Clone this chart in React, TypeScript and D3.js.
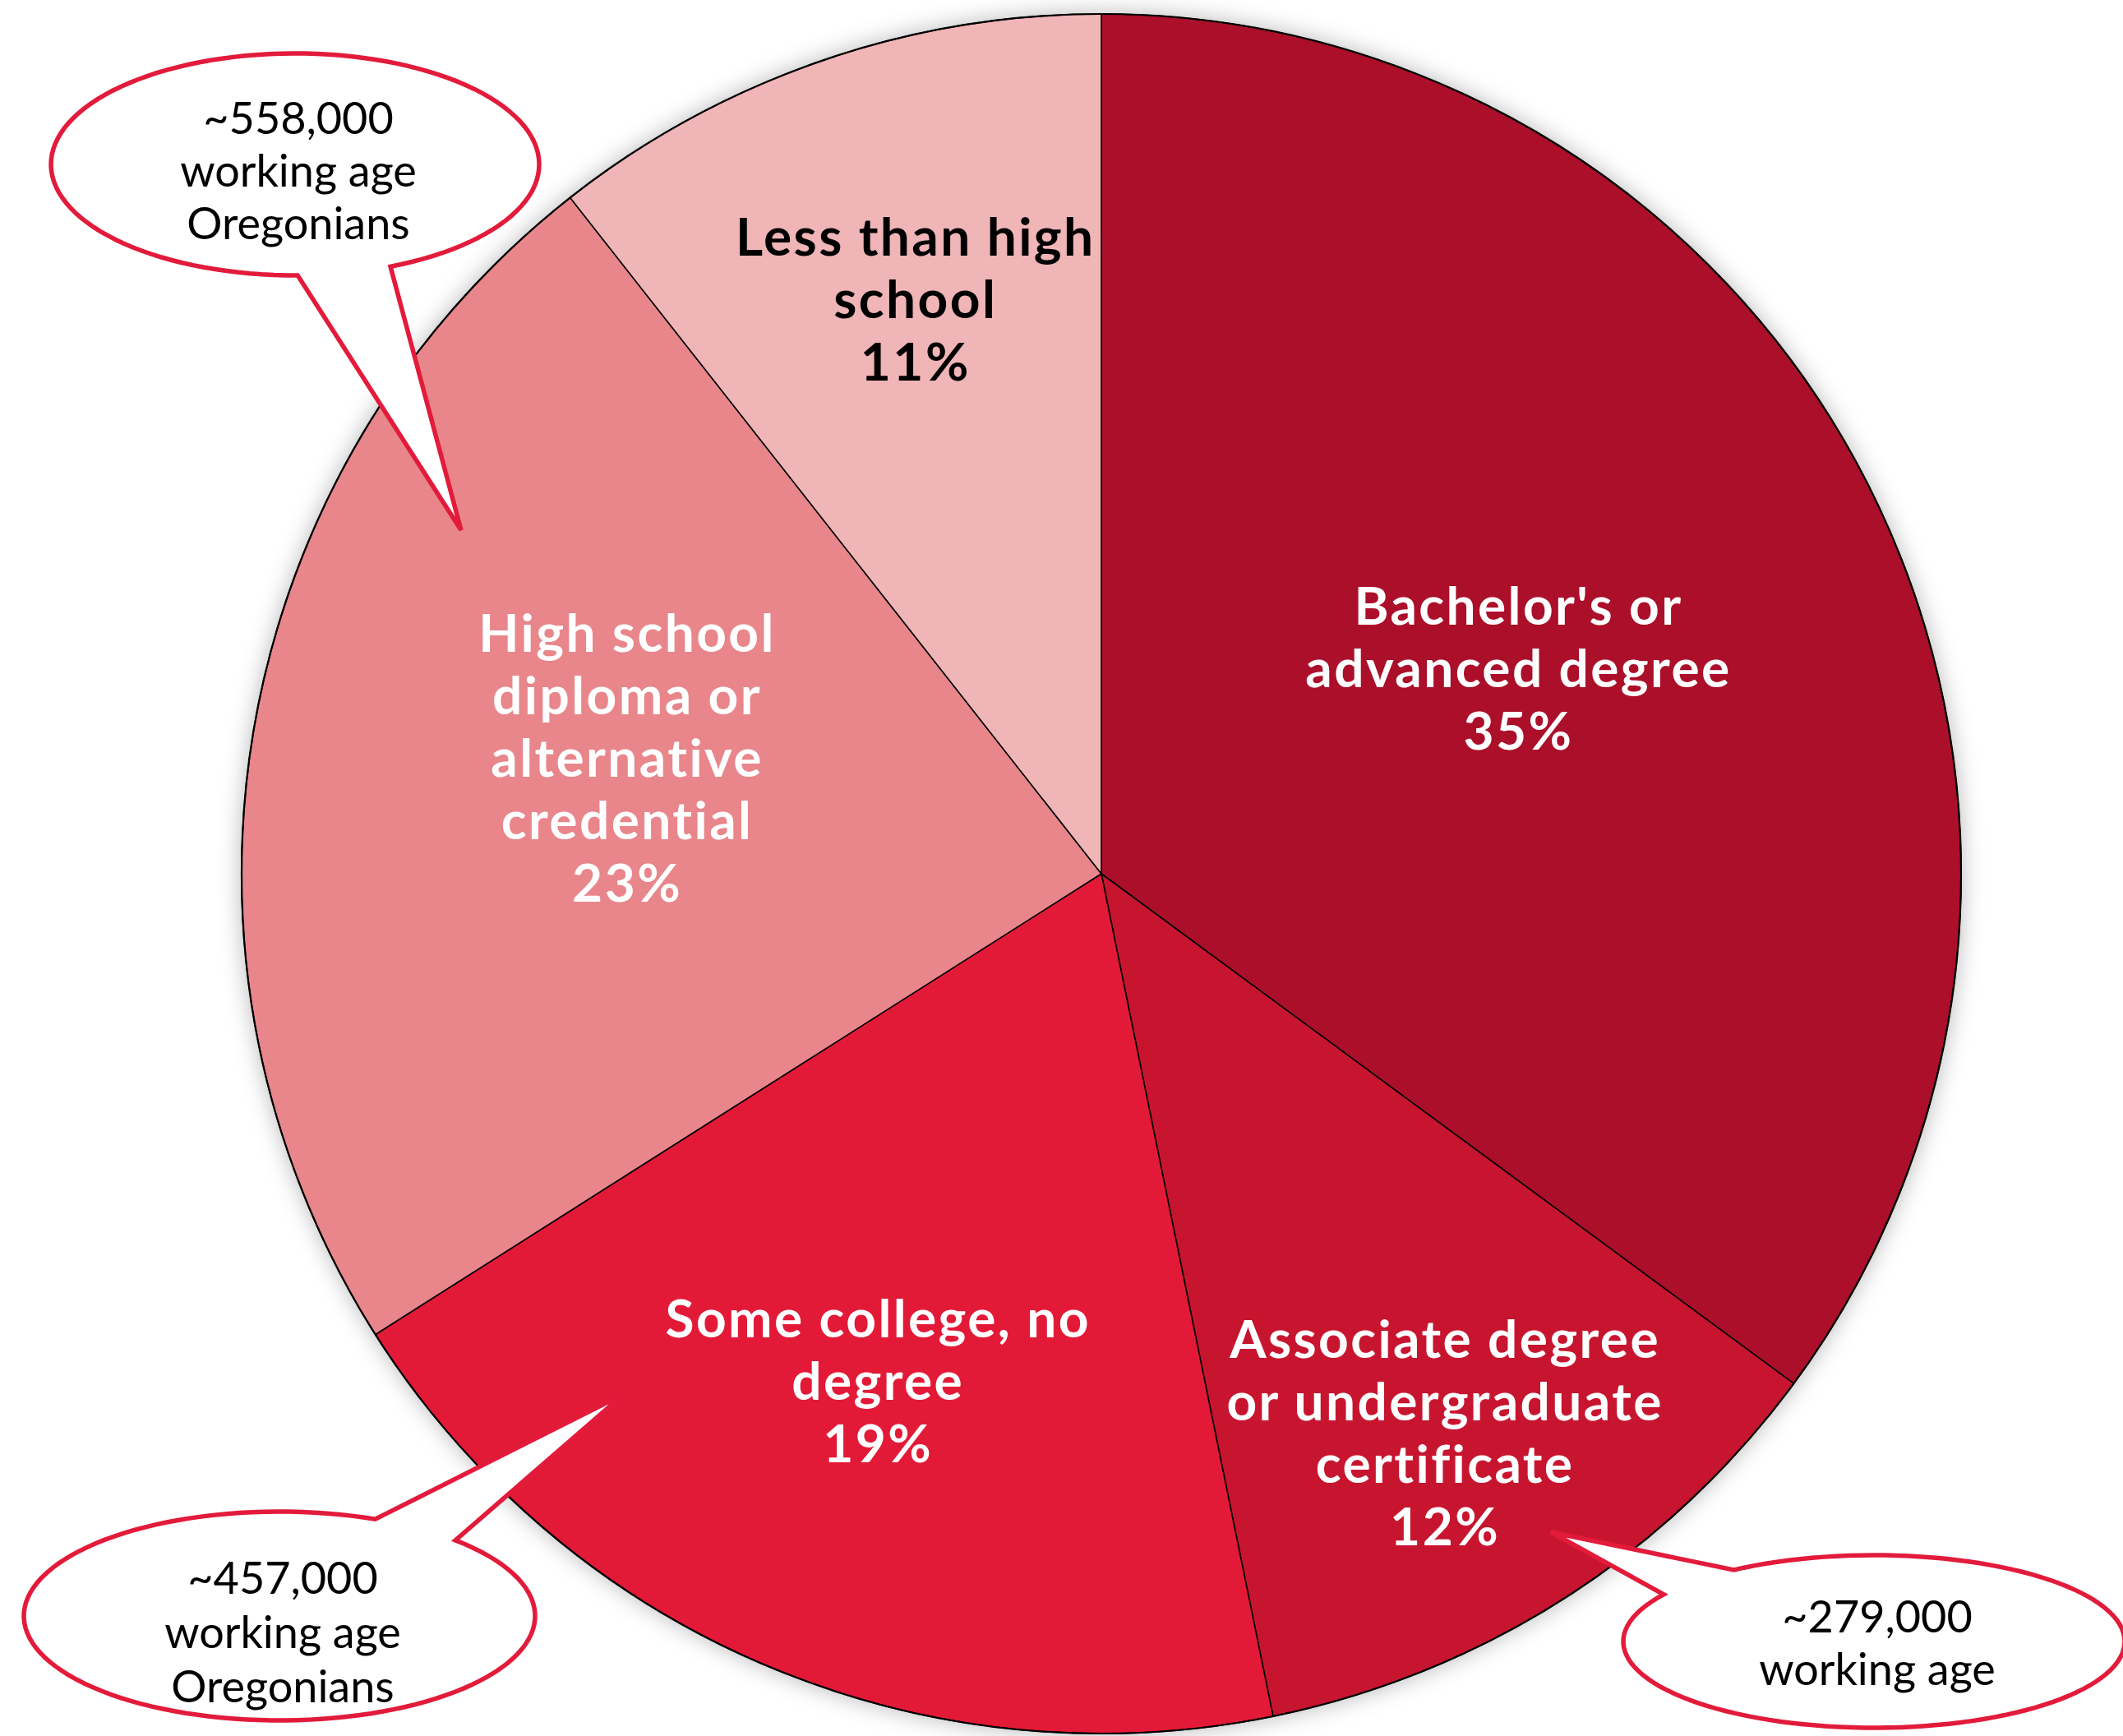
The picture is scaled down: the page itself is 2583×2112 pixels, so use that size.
import React, { useEffect, useRef } from 'react';
import * as d3 from 'd3';

// educational attainment of working age Oregonians, clockwise from 12 o'clock
const categories = [
  'Bachelor\'s or advanced degree',
  'Associate degree or undergraduate certificate',
  'Some college, no degree',
  'High school diploma or alternative credential',
  'Less than high school',
];
// unrounded shares (slice sizes) and the rounded percentages printed on the chart
const shares = [35.1, 11.7, 19.2, 23.4, 10.6];
const shownPct = [35, 12, 19, 23, 11];
const labelLines = [
  ['Bachelor\'s or', 'advanced degree'],
  ['Associate degree', 'or undergraduate', 'certificate'],
  ['Some college, no', 'degree'],
  ['High school', 'diploma or', 'alternative', 'credential'],
  ['Less than high', 'school'],
];
const sliceColors = ['#AB0F2A', '#C8152F', '#E31A37', '#E8868B', '#F0B5B7'];
const labelColors = ['#ffffff', '#ffffff', '#ffffff', '#ffffff', '#000000'];

const calloutLines = [
  ['~558,000', 'working age', 'Oregonians'],
  ['~457,000', 'working age', 'Oregonians'],
  ['~279,000', 'working age'],
];

const W = 2583;
const H = 2112;
const cx = 1340;
const cy = 1063;
const R = 1046;

// label placement: radius from centre and angle tweak (deg) from slice middle
const labelLayout = [
  { r: 555, da: 2.62 },
  { r: 817, da: 1.9 },
  { r: 696, da: 0.06 },
  { r: 590, da: 1.78 },
  { r: 713, da: 0.48 },
];

// callout bubbles: ellipse, tail base angles (deg, parametric), tip and text start
const calloutLayout = [
  { ex: 359, ey: 200, rx: 297, ry: 135, t1: 67, t2: 89.4, tip: [561, 645], ty: -37, lh: 64 },
  { ex: 340, ey: 1966, rx: 311, ry: 127, t1: -68, t2: -46.5, tip: [759, 1696], ty: -27, lh: 66 },
  { ex: 2280, ey: 1997, rx: 305, ry: 105, t1: -147, t2: -124, tip: [1887, 1864], ty: -11, lh: 64 },
];

const App: React.FC = () => {
  const svgRef = useRef<SVGSVGElement>(null);

  useEffect(() => {
    if (!svgRef.current) return;
    const svg = d3.select(svgRef.current);
    svg.selectAll('*').remove();

    const defs = svg.append('defs');
    const f = defs
      .append('filter')
      .attr('id', 'pieShadow')
      .attr('x', '-10%')
      .attr('y', '-10%')
      .attr('width', '120%')
      .attr('height', '120%');
    f.append('feDropShadow')
      .attr('dx', 0)
      .attr('dy', 0)
      .attr('stdDeviation', 14)
      .attr('flood-color', '#000')
      .attr('flood-opacity', 0.3);

    svg.append('rect').attr('width', W).attr('height', H).attr('fill', '#ffffff');

    const pie = d3
      .pie<number>()
      .sort(null)
      .value((d) => d);
    const arcs = pie(shares);
    const arc = d3.arc<d3.PieArcDatum<number>>().innerRadius(0).outerRadius(R);

    const g = svg.append('g').attr('transform', `translate(${cx},${cy})`);

    g.append('circle').attr('r', R).attr('fill', '#fff').attr('filter', 'url(#pieShadow)');

    g.selectAll('path.slice')
      .data(arcs)
      .enter()
      .append('path')
      .attr('class', 'slice')
      .attr('d', arc)
      .attr('fill', (_, i) => sliceColors[i])
      .attr('stroke', '#000')
      .attr('stroke-width', 1.6)
      .attr('stroke-linejoin', 'round');

    g.append('circle')
      .attr('r', R)
      .attr('fill', 'none')
      .attr('stroke', '#000')
      .attr('stroke-width', 2.2);

    const lineH = 76;
    const ls = 2.4;
    arcs.forEach((a, i) => {
      const mid = (a.startAngle + a.endAngle) / 2 + (labelLayout[i].da * Math.PI) / 180;
      const lx = labelLayout[i].r * Math.sin(mid);
      const ly = -labelLayout[i].r * Math.cos(mid);
      const lines = [...labelLines[i], `${shownPct[i]}%`];
      const t = g
        .append('text')
        .attr('text-anchor', 'middle')
        .attr('font-family', 'Lato, "Open Sans", sans-serif')
        .attr('font-weight', 700)
        .attr('font-size', 64)
        .attr('letter-spacing', ls)
        .attr('fill', labelColors[i]);
      lines.forEach((s, j) => {
        t.append('tspan')
          .attr('x', lx + ls / 2)
          .attr('y', ly + (j - (lines.length - 1) / 2) * lineH)
          .text(s);
      });
    });

    const rad = (deg: number) => (deg * Math.PI) / 180;
    calloutLayout.forEach((c, i) => {
      const ax = c.ex + c.rx * Math.cos(rad(c.t2));
      const ay = c.ey + c.ry * Math.sin(rad(c.t2));
      const bx = c.ex + c.rx * Math.cos(rad(c.t1));
      const by = c.ey + c.ry * Math.sin(rad(c.t1));
      const p = d3.path();
      p.moveTo(ax, ay);
      // long way round the ellipse, then out to the tip
      const steps = 120;
      const from = rad(c.t2);
      const to = rad(c.t1) + Math.PI * 2;
      for (let k = 1; k <= steps; k++) {
        const t = from + ((to - from) * k) / steps;
        p.lineTo(c.ex + c.rx * Math.cos(t), c.ey + c.ry * Math.sin(t));
      }
      p.lineTo(bx, by);
      p.lineTo(c.tip[0], c.tip[1]);
      p.closePath();
      svg
        .append('path')
        .attr('d', p.toString())
        .attr('fill', '#ffffff')
        .attr('stroke', '#E31B3B')
        .attr('stroke-width', 5.5)
        .attr('stroke-linejoin', 'miter');

      const lines = calloutLines[i];
      const t = svg
        .append('text')
        .attr('text-anchor', 'middle')
        .attr('font-family', 'Lato, "Open Sans", sans-serif')
        .attr('font-weight', 400)
        .attr('font-size', 54)
        .attr('fill', '#000');
      lines.forEach((s, j) => {
        t.append('tspan')
          .attr('x', c.ex + 4)
          .attr('y', c.ey + c.ty + j * c.lh)
          .text(s);
      });
    });
  }, []);

  return (
    <svg
      ref={svgRef}
      width={W}
      height={H}
      style={{ position: 'absolute', left: 0, top: 0, display: 'block' }}
    />
  );
};

export default App;
